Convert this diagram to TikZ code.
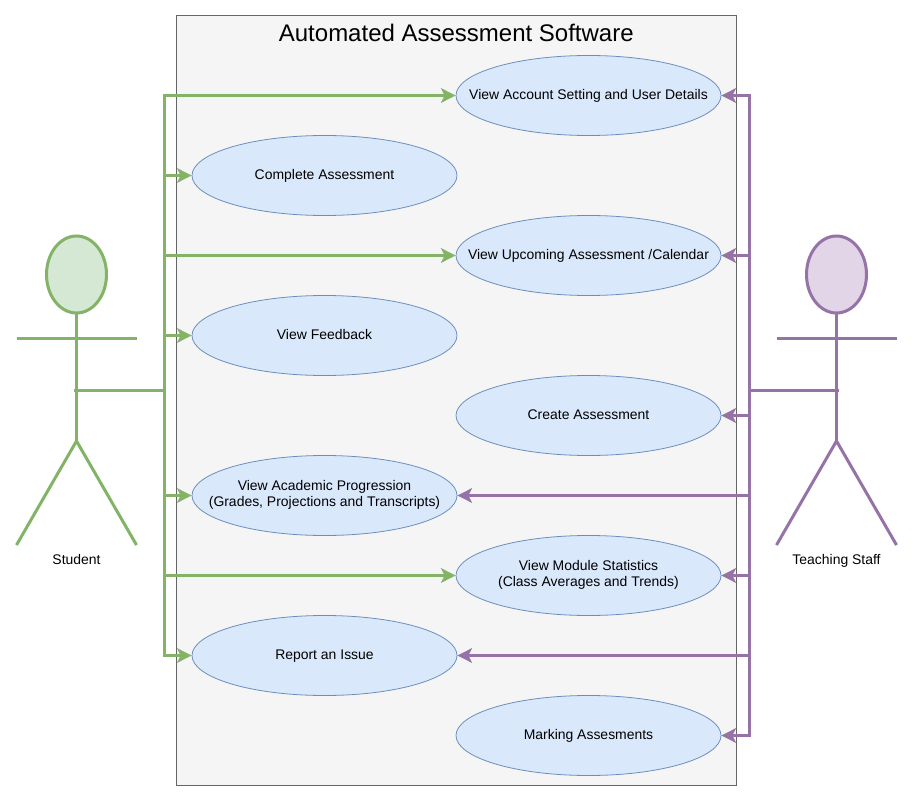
\documentclass[tikz,border=0pt]{standalone}
\usepackage{fontspec}
\setmainfont{Liberation Sans}
\usetikzlibrary{arrows.meta,shapes.geometric}

\begin{document}
\begin{tikzpicture}[
  x=1pt, y=-1pt,
  font=\fontsize{13.95}{16}\selectfont,
  sys/.style={draw=black!60, fill=black!4, line width=1pt},
  uc/.style={ellipse, draw=ucline, fill=ucfill, line width=0.8pt, align=center,
    minimum width=265pt, minimum height=80pt, inner xsep=-40pt, inner ysep=0pt,
    execute at begin node=\rule{0pt}{13.2pt}, execute at end node=\strut},
  lbl/.style={inner sep=0pt, align=center},
  stu/.style={draw=stuline, line width=3pt},
  staff/.style={draw=staffline, line width=3pt},
  a/.style={-{Stealth[length=14.5pt, width=14.5pt, inset=3.5pt]}}]
\definecolor{ucline}{HTML}{6C8EBF}
\definecolor{ucfill}{HTML}{DAE8FC}
\definecolor{stuline}{HTML}{82B366}
\definecolor{stufill}{HTML}{D5E8D4}
\definecolor{staffline}{HTML}{9673A6}
\definecolor{stafffill}{HTML}{E1D5E7}

\useasboundingbox (0,0) rectangle (913,810);

% =================== the system box ===============
\node[sys, minimum width=560pt, minimum height=770pt, inner sep=0pt] (system) at (456.5,400.5) {};
\node[lbl, font=\fontsize{24}{28}\selectfont] (title) at (456.3,33) {Automated Assessment Software};

% =================== the use cases ===============
\node[uc] (account) at (588.5,95.5) {View Account Setting and User Details};
\node[uc] (complete) at (324.5,175.5) {Complete Assessment};
\node[uc] (upcoming) at (588.5,255.5) {View Upcoming Assessment /Calendar};
\node[uc] (feedback) at (324.5,335.5) {View Feedback};
\node[uc] (create) at (588.5,415.5) {Create Assessment};
\node[uc] (progress) at (324.5,495.5) {View Academic Progression\\(Grades, Projections and Transcripts)};
\node[uc] (stats) at (588.5,575.5) {View Module Statistics\\(Class Averages and Trends)};
\node[uc] (issue) at (324.5,655.5) {Report an Issue};
\node[uc] (marking) at (588.5,735.5) {Marking Assesments};

% =================== the two actors ===============
\foreach \nm/\cx/\sty/\fil/\txt in {student/76.5/stu/stufill/Student, teacher/836.5/staff/stafffill/Teaching Staff} {
  \node[ellipse, \sty, fill=\fil, minimum width=60pt, minimum height=77pt, inner sep=0pt] (\nm head) at (\cx,274.5) {};
  \coordinate (\nm hip) at (\cx,441);
  \draw[\sty] (\nm head.south) -- (\nm hip);
  \draw[\sty] (\cx-60,338.5) -- (\cx+60,338.5);
  \draw[\sty] (\cx-60,545) -- (\nm hip) -- (\cx+60,545);
  \node[lbl, anchor=base] (\nm) at (\cx,564) {\txt};
}

% =================== connectors ===============
\coordinate (studenthub) at (74,390);
\coordinate (studentbus) at (164.3,390);
\foreach \uc in {account,complete,upcoming,feedback,progress,stats,issue} {
  \draw[stu, a] (studenthub) -- (studentbus) |- (\uc.west);
}

\coordinate (teacherhub) at (838.5,390);
\coordinate (teacherbus) at (749,390);
\foreach \uc in {account,upcoming,create,progress,stats,issue,marking} {
  \draw[staff, a] (teacherhub) -- (teacherbus) |- (\uc.east);
}
\end{tikzpicture}
\end{document}
